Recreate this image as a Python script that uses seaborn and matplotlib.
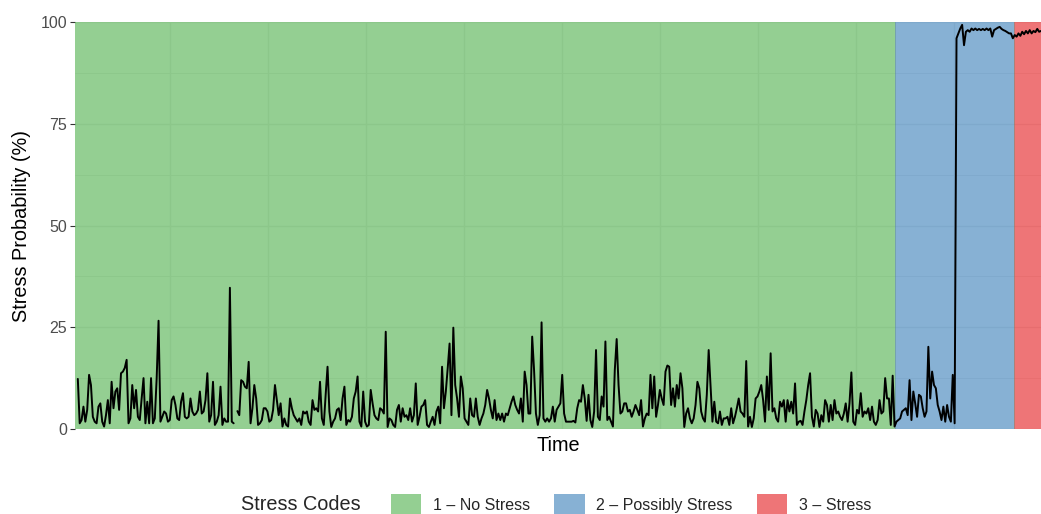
import numpy as np
import pandas as pd
import matplotlib
matplotlib.use("Agg")
import matplotlib.pyplot as plt
import seaborn as sns
from matplotlib.patches import Patch

# ---- data ----
no_stress = [
    12.3, 1.4, 2.2, 5.5, 1.8, 4.7, 13.3, 10.8, 3.0, 1.8, 1.4, 5.5, 6.3, 1.8, 0.6, 3.4, 7.1, 1.4, 11.6,
    5.1, 9.2, 10.0, 4.7, 13.7, 14.1, 15.0, 17.0, 1.4, 2.6, 10.8, 5.1, 9.6, 3.0, 2.2, 7.5, 12.5, 1.4, 6.7,
    1.4, 12.5, 1.4, 2.6, 12.5, 26.6, 1.8, 3.0, 4.3, 3.8, 1.8, 2.2, 7.1, 8.0, 5.9, 2.6, 2.2, 6.7, 8.8, 3.0,
    2.6, 3.0, 7.5, 4.3, 3.4, 3.8, 4.7, 9.2, 3.8, 4.3, 7.1, 13.7, 1.8, 3.4, 11.6, 1.0, 1.8, 3.4, 10.4, 1.0,
    2.6, 1.8, 1.8, 34.7, 1.8, 1.4, np.nan, 4.4, 3.4, 12.0, 11.6, 10.4, 10.0, 16.5, 1.4, 5.1, 10.8, 7.5, 1.0, 1.4,
    2.2, 5.1, 5.1, 4.3, 1.8, 2.2, 4.7, 10.8, 7.1, 3.4, 6.3, 0.6, 2.6, 1.0, 0.6, 7.5, 5.1, 3.4,
    2.6, 1.8, 2.6, 1.0, 4.3, 3.8, 4.3, 1.8, 1.0, 7.1, 4.7, 5.1, 4.3, 11.6,
    2.6, 1.0, 8.4, 15.3, 4.3, 0.5, 1.8, 2.6, 4.7, 5.1, 2.2, 7.5, 10.4, 1.0, 2.2, 1.8, 3.0, 7.5, 9.2, 12.9,
    1.8, 0.6, 9.2, 1.8, 0.6, 1.0, 9.6, 6.3, 3.4, 2.6, 2.2, 5.1, 4.7, 3.8, 23.9, 0.5, 2.6, 2.2,
    1.0, 0.5, 4.7, 5.9, 1.8, 5.1, 3.0, 3.4, 2.2, 5.1, 1.8, 3.4, 11.2, 1.0, 3.0, 5.5, 5.9, 7.1, 1.0,
    0.5, 1.8, 3.0, 1.0, 4.3, 5.5, 1.4, 15.3, 5.1, 9.2, 14.9, 21.0, 3.4, 24.9, 10.8, 7.5, 3.0, 12.9, 10.0, 2.6,
    1.8, 1.0, 7.5, 3.4, 3.0, 7.5, 3.0, 1.0, 2.6, 3.8, 5.9, 9.6, 7.5, 4.7, 2.6, 7.1, 2.2, 3.8, 2.2,
    3.8, 1.8, 3.8, 3.4, 5.1, 6.7, 8.0, 5.9, 4.7, 3.8, 7.5, 1.8, 14.1, 10.8, 3.8, 3.8, 22.7, 14.5, 3.8, 1.0,
    3.4, 26.2, 2.6, 1.8, 2.6, 1.8, 2.6, 5.5, 1.8, 4.7, 5.5, 6.3, 13.3, 3.8, 1.8, 1.8,
    1.8, 1.8, 2.0, 1.6, 5.1, 7.1, 6.7, 10.8, 7.5, 2.0, 8.4, 2.2, 0.5, 4.3, 19.4, 3.0, 2.2, 8.0, 5.5, 21.5,
    2.2, 3.0, 1.8, 0.6, 14.5, 22.1, 10.8, 3.8, 4.3, 6.3, 6.3, 4.3, 4.7, 3.0, 4.3, 5.9, 4.7, 3.4, 7.1, 0.6,
    2.6, 3.8, 3.4, 13.3, 5.1, 12.9, 3.0, 5.9, 9.6, 7.5, 5.9, 14.1, 15.6, 15.3, 5.9, 10.0, 5.5, 10.8, 7.5, 13.7,
    10.0, 0.5, 3.8, 5.1, 2.6, 1.4, 2.6, 5.9, 11.6, 10.0, 4.3, 2.6, 1.8, 8.4, 19.4, 10.8, 1.8, 6.7, 1.8, 1.4,
    4.3, 1.0, 2.6, 2.6, 3.0, 1.0, 5.1, 1.4, 3.0, 5.1, 7.5, 4.3, 3.8, 3.0, 16.7, 0.6, 3.0, 0.5, 2.6, 7.5,
    8.0, 9.2, 10.8, 7.1, 1.8, 12.9, 4.7, 18.6, 4.3, 5.1, 2.6, 1.8, 6.7, 5.5, 7.1, 1.8, 7.1, 4.3, 6.7, 3.8,
    11.2, 1.0, 1.8, 2.0, 1.0, 4.3,
    7.1, 10.8, 13.7, 3.0, 0.6, 4.7, 3.8, 0.5, 3.4, 1.8, 7.1, 5.9, 1.8, 5.9, 2.2, 7.1, 3.8, 4.3, 3.0, 2.2,
    3.8, 6.3, 1.8, 6.3, 13.9, 1.8, 1.0, 4.7, 3.8, 8.8, 3.0, 4.3, 3.8, 5.1, 2.2, 5.5, 1.8, 1.0, 2.2, 7.1,
    3.8, 4.3, 12.5, 7.5, 7.5, 1.0, 13.1, 0.6,
]
possibly_stress = [
    1.8, 2.2, 2.6, 4.3, 4.7, 5.1, 3.4, 12.0, 2.2, 9.2, 6.3, 3.0, 8.4, 8.0, 5.1, 3.0, 4.3, 20.2, 7.5, 14.1, 10.8,
    10.0, 5.9, 4.3, 2.2, 5.5, 1.8, 5.9, 3.0, 1.8, 13.3, 1.4,
    96.0, 97.2, 98.4, 99.3, 94.3, 97.6, 98.0, 97.6, 98.4, 98.0, 98.4, 98.0, 98.3, 98.0, 98.3, 98.0, 98.4, 98.0,
    98.4, 96.4, 98.0, 98.3, 98.6, 98.8, 98.3, 98.0, 97.8, 97.5, 97.2, 97.2, 96.0,
]
stress = [96.8, 96.4, 97.2, 96.6, 97.6, 97.0, 97.8, 97.2, 98.0, 97.2, 97.8, 97.5, 98.3, 97.6, 97.8]

code_labels = ["1 \u2013 No Stress", "2 \u2013 Possibly Stress", "3 \u2013 Stress"]
code_colors = ["#4DAF4A", "#377EB8", "#E41A1C"]
y_ticks = [0, 25, 50, 75, 100]

segments = [no_stress, possibly_stress, stress]
values = np.concatenate([np.asarray(s, dtype=float) for s in segments])
codes = np.concatenate([np.full(len(s), i) for i, s in enumerate(segments)])
t = np.arange(len(values))
run = np.cumsum(np.isnan(values))
df = pd.DataFrame({"t": t, "p": values, "code": codes, "run": run}).dropna()

# ---- style ----
sns.set_theme(style="white")
plt.rcParams["font.family"] = ["Liberation Sans", "DejaVu Sans"]

W, H = 1041, 514
fig = plt.figure(figsize=(W / 100, H / 100), dpi=100)
ax = fig.add_axes([75 / W, 1 - 429 / H, 966 / W, 407 / H])

x_left = -1.5
x_right = len(values) - 1

# grid (beneath translucent bands)
for yv in np.arange(0, 100.1, 12.5):
    major = (yv % 25 == 0)
    ax.axhline(yv, color="#EBEBEB", lw=1.0 if major else 0.6, zorder=0)
for k in range(1, 10):
    f = (72 + 98 * k - 75) / 966
    ax.plot([f, f], [0, 1], transform=ax.transAxes, color="#EBEBEB", lw=1.0, zorder=0)

# stress-code bands
bounds = [x_left]
n_acc = 0
for s in segments[:-1]:
    n_acc += len(s)
    bounds.append(n_acc - 0.5)
bounds.append(x_right)
for i in range(len(segments)):
    ax.axvspan(bounds[i], bounds[i + 1], color=code_colors[i], alpha=0.6, lw=0, zorder=1)
for b in bounds[1:-1]:
    ax.axvline(b, color="#5a8f7a", lw=0.6, alpha=0.5, zorder=1.5)

sns.lineplot(data=df, x="t", y="p", units="run", estimator=None, color="black",
             lw=1.4, ax=ax, zorder=3, legend=False)

ax.set_xlim(x_left, x_right)
ax.set_ylim(0, 100)
ax.set_yticks(y_ticks)
ax.set_yticklabels([str(v) for v in y_ticks])
ax.set_xticks([])
for sp in ax.spines.values():
    sp.set_visible(False)
ax.tick_params(axis="y", left=True, length=3.5, width=0.8, color="#333333",
               labelcolor="#4D4D4D", labelsize=11.5, pad=2)
ax.set_xlabel("Time", fontsize=14.3, color="black", labelpad=5)
ax.set_ylabel("Stress Probability (%)", fontsize=14.3, color="black", labelpad=7)

# legend at the bottom
handles = [Patch(facecolor=c, alpha=0.6, edgecolor="none") for c in code_colors]
fig.legend(handles, code_labels, loc="center", bbox_to_anchor=(631 / W, 1 - 505 / H),
           ncol=3, frameon=False, fontsize=11.5, handlelength=1.9, handleheight=1.75,
           handletextpad=0.7, columnspacing=1.55, borderaxespad=0, borderpad=0)
fig.text(241 / W, 1 - 505 / H, "Stress Codes", fontsize=14.3, ha="left", va="center")

fig.savefig("out.png", dpi=100)
